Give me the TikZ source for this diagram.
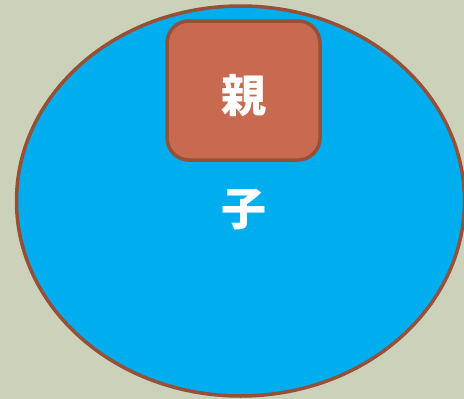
\documentclass[tikz,border=0pt]{standalone}
\usepackage{fontspec}
\newfontfamily\cjk{Noto Sans CJK JP}
\definecolor{bgc}{RGB}{204,209,185}
\definecolor{bluec}{RGB}{0,174,239}
\definecolor{brownc}{RGB}{150,80,56}
\definecolor{rectc}{RGB}{199,106,80}
\begin{document}
\begin{tikzpicture}[x=1pt,y=-1pt,
  lbl/.style={text=white,font=\cjk\bfseries\fontsize{45}{47}\selectfont,inner sep=0pt}]
\fill[bgc] (0,0) rectangle (464,399);
\useasboundingbox (0,0) rectangle (464,399);
\draw[brownc,line width=3.5pt,fill=bluec] (240.5,201) ellipse [x radius=224, y radius=195];
\node[lbl] (child) at (244,210) {子};
\draw[brownc,line width=3.5pt,fill=rectc,rounded corners=22pt] (167,21) rectangle (320,160);
\node[lbl] (parent) at (244,96) {親};
\end{tikzpicture}
\end{document}
